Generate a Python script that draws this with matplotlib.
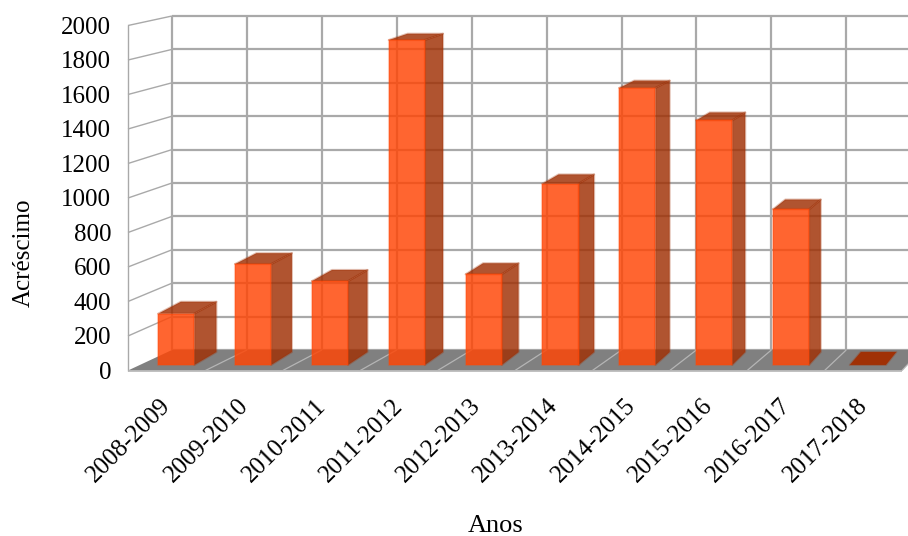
import matplotlib
matplotlib.use("Agg")
import matplotlib.pyplot as plt
from matplotlib.colors import to_rgba
from matplotlib.patches import Polygon
from matplotlib.transforms import ScaledTranslation

anos = ["2008-2009", "2009-2010", "2010-2011", "2011-2012", "2012-2013",
        "2013-2014", "2014-2015", "2015-2016", "2016-2017", "2017-2018"]
acrescimo = [300, 590, 490, 1900, 530, 1060, 1620, 1430, 910, 0]
y_ticks = [0, 200, 400, 600, 800, 1000, 1200, 1400, 1600, 1800, 2000]

# fake perspective: depth 0 is the front edge of the floor, depth 1 the back wall
SHIFT_X = 0.568
SHIFT_Y = 119.0
SHRINK = 0.032
BAR_FRONT = (0.27, 0.224)  # depth for heights, depth for x
BAR_BACK = (0.90, 0.747)
BAR_HALF = 0.235

C_GRID = "#a9a9a9"
C_FLOOR = "#808080"
C_FRONT = "#ff4606"
C_SIDE = "#a03106"
BAR_ALPHA = 0.83


def proj(x, v, depth):
    """category position, value and depth -> data coords of the axes"""
    dy, dx = depth if isinstance(depth, tuple) else (depth, depth)
    return SHIFT_X * dx + x * (1 - SHRINK * dx), SHIFT_Y * dy + v * (1 - SHRINK * dy)


def face(ax, pts, color, alpha=1.0, z=1, lw=1.5):
    # pts are (x, value, depth)
    xy = [proj(*p) for p in pts]
    poly = Polygon(xy, closed=True, facecolor=to_rgba(color, alpha), edgecolor=to_rgba(color, 0.3),
                   lw=lw, joinstyle="round", clip_on=False, zorder=z)
    ax.add_patch(poly)
    return poly


def line3d(ax, a, b, color=C_GRID, lw=1.5, z=1):
    xa, ya = proj(*a)
    xb, yb = proj(*b)
    ax.plot([xa, xb], [ya, yb], color=color, lw=lw, clip_on=False, zorder=z,
            solid_capstyle="butt")


def draw_walls(ax, n):
    face(ax, [(0, 0, 0), (n, 0, 0), (n, 0, 1), (0, 0, 1)], C_FLOOR, z=1, lw=0)
    # back wall and left wall grid
    for v in y_ticks:
        line3d(ax, (0, v, 1), (n + 0.5, v, 1), lw=1.6, z=0.5)
        if v > 0:
            line3d(ax, (0, v, 0), (0, v, 1), lw=1.0, z=0.5)
    for i in range(n + 1):
        line3d(ax, (i, 0, 1), (i, 2000, 1), lw=1.6, z=0.5)
    line3d(ax, (0, 0, 0), (0, 2000, 0), lw=1.0, z=0.5)
    # floor edges and separators
    line3d(ax, (0, 0, 0), (n, 0, 0), color="#b5b5b5", lw=1.2, z=1.2)
    for i in range(1, n + 1):
        line3d(ax, (i, 0, 0), (i, 0, 1), color="#b5b5b5", lw=0.9, z=1.2)


def draw_bars(ax):
    for i, val in enumerate(acrescimo):
        c = i + 0.5
        l, r = c - BAR_HALF, c + BAR_HALF
        # right side
        if val > 0:
            face(ax, [(r, 0, BAR_FRONT), (r, 0, BAR_BACK), (r, val, BAR_BACK), (r, val, BAR_FRONT)],
                 C_SIDE, BAR_ALPHA, z=2)
        # top
        face(ax, [(l, val, BAR_FRONT), (r, val, BAR_FRONT), (r, val, BAR_BACK), (l, val, BAR_BACK)],
             C_SIDE, BAR_ALPHA if val > 0 else 1.0, z=2)
        # front, a normal bar on the plane of the bar fronts
        x0, y0 = proj(l, 0, BAR_FRONT)
        x1, y1 = proj(r, val, BAR_FRONT)
        if val > 0:
            bar = ax.bar(x0, y1 - y0, width=x1 - x0, bottom=y0, align="edge",
                         color=to_rgba(C_FRONT, BAR_ALPHA), edgecolor=to_rgba(C_FRONT, 0.3),
                         linewidth=1.5, clip_on=False, zorder=3)
            bar[0].set_joinstyle("round")


def main():
    plt.rcParams["font.family"] = ["Liberation Serif", "DejaVu Serif"]
    fig = plt.figure(figsize=(9.08, 5.36), dpi=100)
    ax = fig.add_axes([128 / 908, 1 - 370.5 / 536, 774 / 908, 345 / 536])
    n = len(anos)
    ax.set_xlim(0, n)
    ax.set_ylim(0, 2000)
    for s in ax.spines.values():
        s.set_visible(False)
    ax.patch.set_visible(False)

    draw_walls(ax, n)
    draw_bars(ax)

    ax.set_yticks(y_ticks)
    ax.tick_params(axis="y", length=0, pad=12, labelsize=18)
    ax.set_xticks([i + 0.5 for i in range(n)])
    ax.set_xticklabels(anos, rotation=45, ha="right", rotation_mode="anchor", fontsize=18)
    ax.tick_params(axis="x", length=0, pad=15)
    # nudge the slanted labels a little to the left and down
    nudge = ScaledTranslation(-5 / 72, -2.5 / 72, fig.dpi_scale_trans)
    for lab in ax.get_xticklabels():
        lab.set_transform(lab.get_transform() + nudge)

    fig.text(496 / 908, 1 - 525.5 / 536, "Anos", fontsize=19, ha="center", va="center")
    fig.text(24 / 908, 1 - 253 / 536, "Acréscimo", fontsize=18, rotation=90, ha="center", va="center")

    fig.savefig("out.png", dpi=100)


if __name__ == '__main__':
    main()
